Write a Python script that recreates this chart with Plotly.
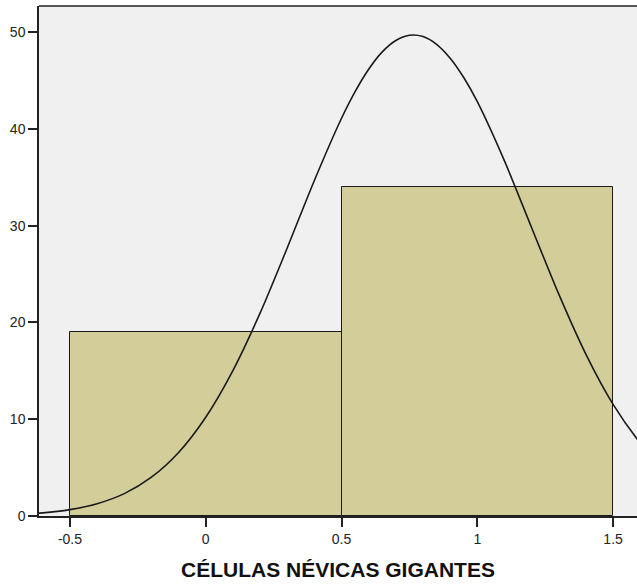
import plotly.graph_objects as go

# Histogram bins (edges) and counts
bin_left = [-0.5, 0.5]
bin_right = [0.5, 1.5]
counts = [19, 34]

# Normal curve points
curve_x = [-0.62, -0.6, -0.5, -0.4, -0.3, -0.2, -0.1, 0.0, 0.1, 0.2, 0.3, 0.4, 0.5, 0.55,
           0.6, 0.65, 0.7, 0.75, 0.8, 0.85, 0.9, 0.95, 1.0, 1.1, 1.2, 1.3, 1.4, 1.5, 1.6, 1.65]
curve_y = [0.29, 0.32, 0.66, 1.27, 2.31, 4.01, 6.57, 10.21, 15.03, 20.96, 27.70, 34.67, 41.10, 43.86,
           46.17, 47.96, 49.14, 49.67, 49.54, 48.74, 47.31, 45.31, 42.81, 36.69, 29.79, 22.92, 16.70, 11.53, 7.54, 5.98]

x_ticks = [-0.5, 0, 0.5, 1, 1.5]
x_tick_labels = ["-0.5", "0", "0.5", "1", "1.5"]
y_ticks = [0, 10, 20, 30, 40, 50]

fig = go.Figure()
fig.add_trace(go.Bar(
    x=[(l + r) / 2 for l, r in zip(bin_left, bin_right)],
    y=counts,
    width=[r - l for l, r in zip(bin_left, bin_right)],
    marker=dict(color="#d3ce99", line=dict(color="#1a1a1a", width=1)),
    hoverinfo="skip",
))
fig.add_trace(go.Scatter(
    x=curve_x, y=curve_y, mode="lines",
    line=dict(color="#1a1a1a", width=1.6, shape="spline", smoothing=0.8),
    hoverinfo="skip",
))

fig.update_layout(
    width=637, height=586,
    margin=dict(l=39, r=0, t=6, b=70),
    paper_bgcolor="white",
    plot_bgcolor="#f0f0f0",
    showlegend=False,
    bargap=0,
    font=dict(family="Arial, Liberation Sans, sans-serif", size=14, color="#222"),
    xaxis=dict(
        range=[-0.614, 1.588],
        tickvals=x_ticks, ticktext=x_tick_labels,
        ticks="outside", ticklen=9, tickcolor="#222", tickwidth=1.5,
        showgrid=False, zeroline=False,
        showline=True, linecolor="#222", linewidth=1.5,
        title=dict(text="<b>CÉLULAS NÉVICAS GIGANTES</b>", font=dict(size=21, color="#111"), standoff=17),
    ),
    yaxis=dict(
        range=[0, 52.7],
        tickvals=y_ticks,
        ticks="outside", ticklen=9, tickcolor="#222", tickwidth=1.5,
        showgrid=False, zeroline=False,
        showline=True, linecolor="#222", linewidth=1.5,
    ),
)
fig.add_shape(type="line", xref="paper", yref="paper", x0=0, x1=1, y0=1, y1=1,
              line=dict(color="#222", width=1.5))

fig.write_html("out.html")
